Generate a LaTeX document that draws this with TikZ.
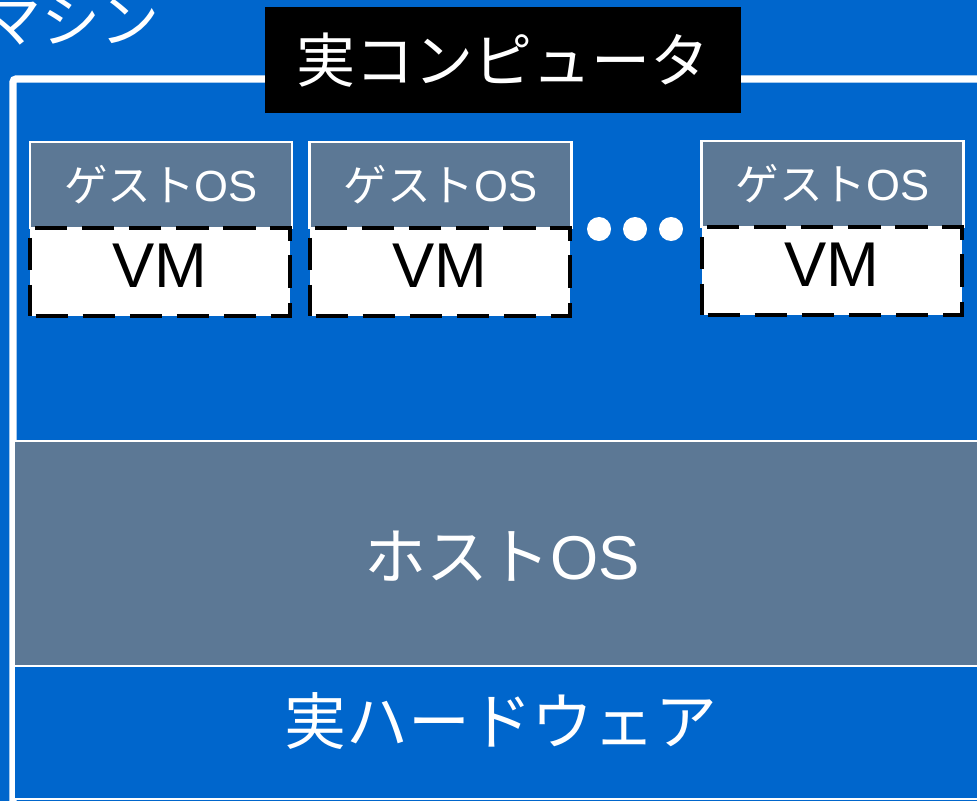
\documentclass[tikz,border=0pt]{standalone}
\usepackage{fontspec}
\setmainfont{Liberation Sans}
\newfontfamily\jp{Noto Sans CJK JP}
\definecolor{bgblue}{RGB}{0,102,204}
\definecolor{osgray}{RGB}{92,120,149}
\tikzset{
  guestbox/.style={draw=white, fill=osgray, line width=2pt, minimum width=6.55cm, minimum height=2.15cm, inner sep=0pt, text=white, font=\fontsize{31}{36}\selectfont},
  vmbox/.style={draw=black, fill=white, line width=3.2pt, dash pattern=on 23pt off 10.5pt, dash phase=-4pt, minimum width=6.5cm, minimum height=2.2cm, inner sep=0pt},
  vmlabel/.style={inner sep=0pt, text=black, font=\fontsize{45}{50}\selectfont},
  dotnode/.style={circle, fill=white, minimum size=0.6cm, inner sep=0pt},
  bigtext/.style={inner sep=0pt, text=white, font=\fontsize{44}{50}\selectfont},
  layerline/.style={draw=white, line width=2.1pt}
}
\begin{document}
\begin{tikzpicture}[x=0.025cm, y=-0.025cm]
\useasboundingbox (0,0) rectangle (977,801);
\clip (0,0) rectangle (977,801);
\fill[bgblue] (0,0) rectangle (977,801);
% frame
\draw[white, line width=5pt, rounded corners=2pt] (13,830) -- (13,79) -- (1010,79);
% cut-off title
\node[anchor=base east, inner sep=0pt, text=white, font=\jp\fontsize{42}{46}\selectfont] (mach) at (160,43) {マシン};
% label
\node[fill=black, minimum width=11.9cm, minimum height=2.65cm, inner sep=0pt, text=white, font=\jp\fontsize{42}{48}\selectfont] (real) at (503,60) {実コンピュータ};
% guest OS boxes
\node[guestbox] (g1) at (161,185) {{\jp ゲスト}OS};
\node[guestbox] (g2) at (440.5,185) {{\jp ゲスト}OS};
\node[guestbox] (g3) at (832.5,184) {{\jp ゲスト}OS};
\node[vmbox] (v1) at (160,272) {};
\node[vmbox] (v2) at (440,272) {};
\node[vmbox] (v3) at (832,271) {};
\node[vmlabel] (v1t) at ([yshift=0.15cm]v1.center) {VM};
\node[vmlabel] (v2t) at ([yshift=0.15cm]v2.center) {VM};
\node[vmlabel] (v3t) at ([yshift=0.15cm]v3.center) {VM};
% dots
\node[dotnode] (d1) at (599,229) {};
\node[dotnode] (d2) at (635,229) {};
\node[dotnode] (d3) at (671,229) {};
% host OS and hardware
\fill[osgray, layerline] (14,441) rectangle (1010,666);
\fill[bgblue, layerline] (14,666) rectangle (1010,799);
\node[bigtext] (host) at (502,556) {{\jp ホスト}OS};
\node[bigtext, font=\jp\fontsize{44}{50}\selectfont] (hw) at (501,721) {実ハードウェア};
\end{tikzpicture}
\end{document}
